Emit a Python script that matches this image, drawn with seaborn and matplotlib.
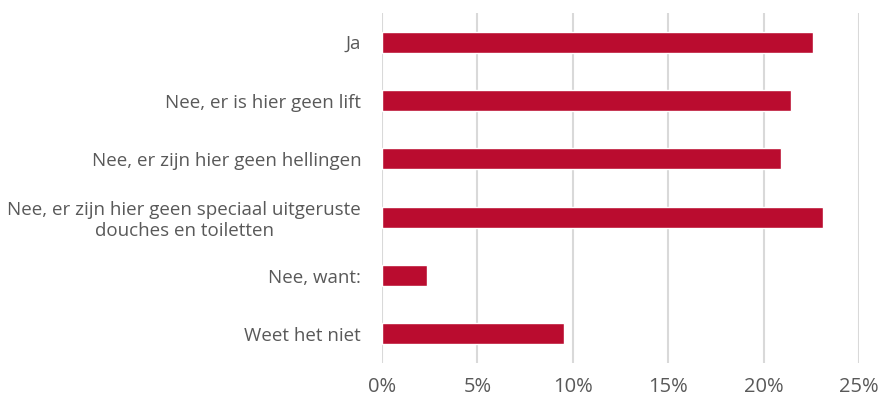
import matplotlib
matplotlib.use("Agg")
import matplotlib.pyplot as plt
import seaborn as sns
import pandas as pd
from matplotlib.ticker import FuncFormatter

# data
categories = [
    "Ja",
    "Nee, er is hier geen lift",
    "Nee, er zijn hier geen hellingen",
    "Nee, er zijn hier geen speciaal uitgeruste\ndouches en toiletten",
    "Nee, want:",
    "Weet het niet",
]
values = [22.57, 21.42, 20.9, 23.13, 2.38, 9.52]
x_ticks = [0, 5, 10, 15, 20, 25]

df = pd.DataFrame({"category": categories, "pct": values})

sns.set_theme(style="white")
plt.rcParams["font.family"] = ["Open Sans", "DejaVu Sans"]

fig = plt.figure(figsize=(8.96, 4.07), dpi=100)
ax = fig.add_axes([0.4263, 0.108, 0.5324, 0.860])

sns.barplot(data=df, x="pct", y="category", orient="h", color="#BA0C2F",
            width=0.36, saturation=1, ax=ax)

ax.set_xlim(0, 25)
ax.set_ylim(5.5, -0.5)
ax.set_xticks(x_ticks)
ax.xaxis.set_major_formatter(FuncFormatter(lambda v, p: f"{v:.0f}%"))
ax.grid(axis="x", color="#D9D9D9", linewidth=1.5)
ax.set_axisbelow(True)
for s in ax.spines.values():
    s.set_visible(False)
ax.set_xlabel("")
ax.set_ylabel("")
ax.tick_params(axis="both", length=0, colors="#595959")
ax.tick_params(axis="x", labelsize=14.5, pad=10)
ax.tick_params(axis="y", labelsize=13.5, pad=15)
for lbl in ax.get_yticklabels():
    lbl.set_horizontalalignment("right")
    lbl.set_multialignment("center")

fig.savefig("out.png", dpi=100)
